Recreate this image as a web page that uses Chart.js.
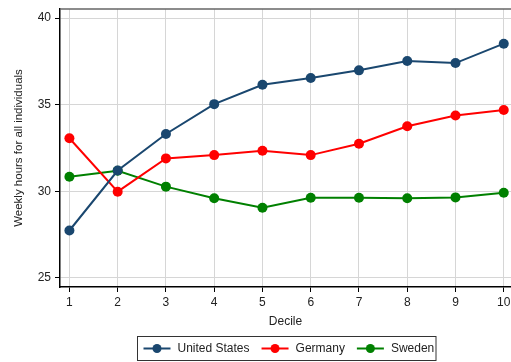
<!DOCTYPE html>
<html>
<head>
<meta charset="utf-8">
<script src="https://cdn.jsdelivr.net/npm/chart.js@4/dist/chart.umd.min.js"></script>
<style>
  html, body { margin: 0; padding: 0; background: #fff; }
  #wrap { width: 511px; height: 362px; }
</style>
</head>
<body>
<div id="wrap"><canvas id="c" width="511" height="362"></canvas></div>
<script>
// Weekly hours by income decile
const deciles = [1, 2, 3, 4, 5, 6, 7, 8, 9, 10];
const unitedStates = [27.74, 31.2, 33.31, 35.03, 36.15, 36.54, 36.98, 37.52, 37.4, 38.52];
const germany      = [33.06, 29.98, 31.9, 32.09, 32.34, 32.09, 32.75, 33.75, 34.38, 34.69];
const sweden       = [30.84, 31.19, 30.27, 29.6, 29.05, 29.63, 29.63, 29.6, 29.65, 29.92];
const yTicks = [25, 30, 35, 40];
const seriesNames = ['United States', 'Germany', 'Sweden'];
const seriesColors = ['#1a476f', '#ff0000', '#008000'];

const FONT = '"Liberation Sans", Arial, sans-serif';

function toPoints(vals) {
  return deciles.map((d, i) => ({ x: d, y: vals[i] }));
}

const datasets = [unitedStates, germany, sweden].map((vals, i) => ({
  label: seriesNames[i],
  data: toPoints(vals),
  borderColor: seriesColors[i],
  backgroundColor: seriesColors[i],
  pointBackgroundColor: seriesColors[i],
  pointBorderColor: seriesColors[i],
  borderWidth: 2,
  pointRadius: 5,
  pointBorderWidth: 0,
  tension: 0,
  clip: false
}));

// Top frame line and boxed legend under the plot
const framePlugin = {
  id: 'frameAndLegend',
  afterDraw(chart) {
    const ctx = chart.ctx;
    const a = chart.chartArea;
    ctx.save();
    ctx.strokeStyle = '#666';
    ctx.lineWidth = 1.5;
    ctx.beginPath();
    ctx.moveTo(a.left, a.top);
    ctx.lineTo(chart.width, a.top);
    ctx.stroke();

    // legend box
    const bx = 137.5, by = 336.5, bw = 298.5, bh = 24;
    ctx.strokeStyle = '#333';
    ctx.lineWidth = 1;
    ctx.strokeRect(bx, by, bw, bh);
    ctx.font = '12px ' + FONT;
    ctx.textBaseline = 'middle';
    ctx.textAlign = 'left';
    const cy = by + bh / 2;
    let x = bx + 6;
    seriesNames.forEach((name, i) => {
      ctx.strokeStyle = seriesColors[i];
      ctx.fillStyle = seriesColors[i];
      ctx.lineWidth = 2;
      ctx.beginPath();
      ctx.moveTo(x, cy);
      ctx.lineTo(x + 27, cy);
      ctx.stroke();
      ctx.beginPath();
      ctx.arc(x + 13.5, cy, 4.5, 0, Math.PI * 2);
      ctx.fill();
      ctx.fillStyle = '#222';
      ctx.fillText(name, x + 34, cy + 0.5);
      x += 34 + ctx.measureText(name).width + 12;
    });
    ctx.restore();
  }
};

new Chart(document.getElementById('c'), {
  type: 'line',
  data: { datasets },
  plugins: [framePlugin],
  options: {
    responsive: false,
    animation: false,
    layout: { autoPadding: false, padding: { left: 0, right: 0, top: 9, bottom: 33 } },
    plugins: { legend: { display: false }, tooltip: { enabled: false } },
    scales: {
      x: {
        type: 'linear',
        min: 0.805,
        max: 10.15,
        afterBuildTicks(scale) { scale.ticks = deciles.map(v => ({ value: v })); },
        afterFit(scale) { scale.height = 42; scale.paddingLeft = 0; scale.paddingRight = 0; },
        grid: { color: '#d6d6d6', lineWidth: 1, tickColor: '#000', tickLength: 5, drawOnChartArea: true },
        border: { color: '#000', width: 1.5 },
        ticks: { color: '#222', font: { family: FONT, size: 12 }, padding: 3, maxRotation: 0, autoSkip: false },
        title: { display: true, text: 'Decile', color: '#222', font: { family: FONT, size: 12 }, padding: { top: 6, bottom: 0 } }
      },
      y: {
        type: 'linear',
        min: 24.48,
        max: 40.52,
        afterBuildTicks(scale) { scale.ticks = yTicks.map(v => ({ value: v })); },
        afterFit(scale) { scale.width = 60; scale.paddingTop = 0; scale.paddingBottom = 0; },
        grid: { color: '#d6d6d6', lineWidth: 1, tickColor: '#000', tickLength: 5 },
        border: { color: '#000', width: 1.5 },
        ticks: { color: '#222', font: { family: FONT, size: 12 }, padding: 4 },
        title: { display: true, text: 'Weekly hours for all individuals', color: '#222', font: { family: FONT, size: 11.5 }, padding: { top: 12, bottom: 0 } }
      }
    }
  }
});
</script>
</body>
</html>
